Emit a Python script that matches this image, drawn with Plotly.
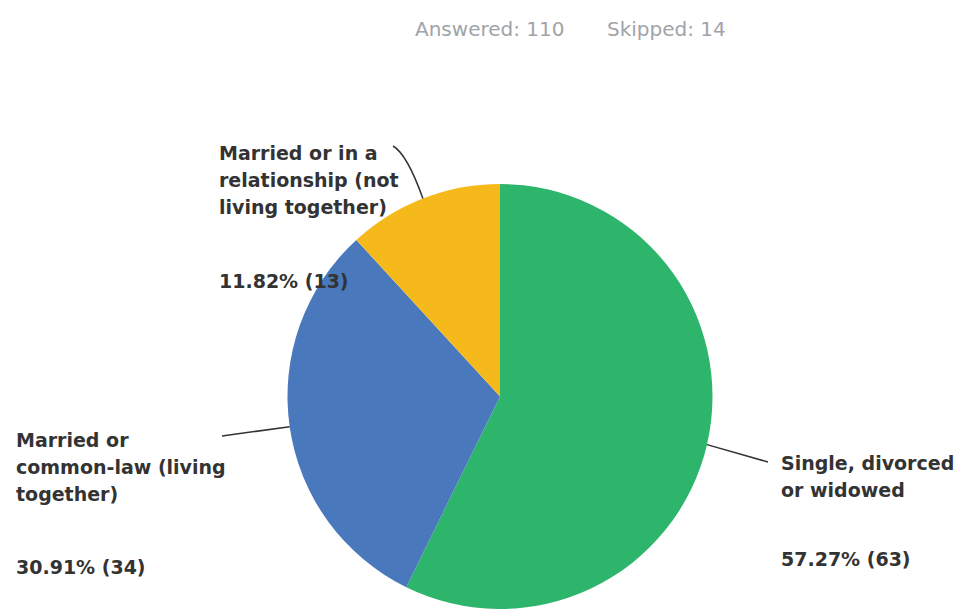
import math
import plotly.graph_objects as go

# Survey responses
categories = [
    "Single, divorced or widowed",
    "Married or common-law (living together)",
    "Married or in a relationship (not living together)",
]
counts = [63, 34, 13]
percent_labels = ["57.27% (63)", "30.91% (34)", "11.82% (13)"]
label_lines = [
    ["Single, divorced", "or widowed"],
    ["Married or", "common-law (living", "together)"],
    ["Married or in a", "relationship (not", "living together)"],
]
answered = 110
skipped = 14
colors = ["#2DB56B", "#4A78BC", "#F6B91C"]

W, H = 963, 609
CX, CY, R = 500, 396.5, 212.5  # pie centre / radius in pixels

# where each label block sits (left x, first-line y, percent-line y) and the
# outer end of its leader line
label_pos = [
    (779, 463, 559, (768, 462)),
    (14, 440, 567, (222, 436)),
    (217, 153, 281, (393, 146)),
]
LINE_GAP = 27

def px(x):
    return x / W

def py(y):
    return 1 - y / H

fig = go.Figure(go.Pie(
    labels=categories,
    values=counts,
    sort=False,
    direction="clockwise",
    rotation=0,
    marker=dict(colors=colors, line=dict(width=0)),
    textinfo="none",
    hoverinfo="label+percent+value",
    showlegend=False,
    domain=dict(x=[px(CX - R), px(CX + R)], y=[py(CY + R), py(CY - R)]),
))

annotations = []
shapes = []
total = sum(counts)
cum = 0
label_font = dict(family="DejaVu Sans", size=19, color="#333333")
for i, v in enumerate(counts):
    mid = (cum + v / 2) / total * 2 * math.pi
    cum += v
    ex = CX + R * math.sin(mid)
    ey = CY - R * math.cos(mid)
    lx, ly, pyy, (ox, oy) = label_pos[i]
    for k, line in enumerate(label_lines[i]):
        annotations.append(dict(
            x=px(lx), y=py(ly + k * LINE_GAP), xref="paper", yref="paper",
            text="<b>" + line + "</b>", showarrow=False,
            xanchor="left", yanchor="middle", font=label_font,
        ))
    annotations.append(dict(
        x=px(lx), y=py(pyy), xref="paper", yref="paper",
        text="<b>" + percent_labels[i] + "</b>", showarrow=False,
        xanchor="left", yanchor="middle", font=label_font,
    ))
    if i == 2:
        # slightly curved leader for the top label
        qx, qy = ox + 14, oy + 8
        path = f"M {px(ox)} {py(oy)} Q {px(qx)} {py(qy)} {px(ex)} {py(ey)}"
        shapes.append(dict(type="path", path=path, xref="paper", yref="paper",
                           line=dict(color="#333333", width=1.5)))
    else:
        shapes.append(dict(type="line", x0=px(ox), y0=py(oy), x1=px(ex), y1=py(ey),
                           xref="paper", yref="paper",
                           line=dict(color="#333333", width=1.5)))

header_font = dict(family="DejaVu Sans", size=20, color="#A0A4A8")
annotations.append(dict(x=px(413), y=py(29), xref="paper", yref="paper",
                        text=f"Answered: {answered}", showarrow=False,
                        xanchor="left", yanchor="middle", font=header_font))
annotations.append(dict(x=px(605), y=py(29), xref="paper", yref="paper",
                        text=f"Skipped: {skipped}", showarrow=False,
                        xanchor="left", yanchor="middle", font=header_font))

fig.update_layout(
    width=W, height=H,
    margin=dict(l=0, r=0, t=0, b=0),
    paper_bgcolor="white",
    plot_bgcolor="white",
    annotations=annotations,
    shapes=shapes,
)

fig.write_html("out.html")
